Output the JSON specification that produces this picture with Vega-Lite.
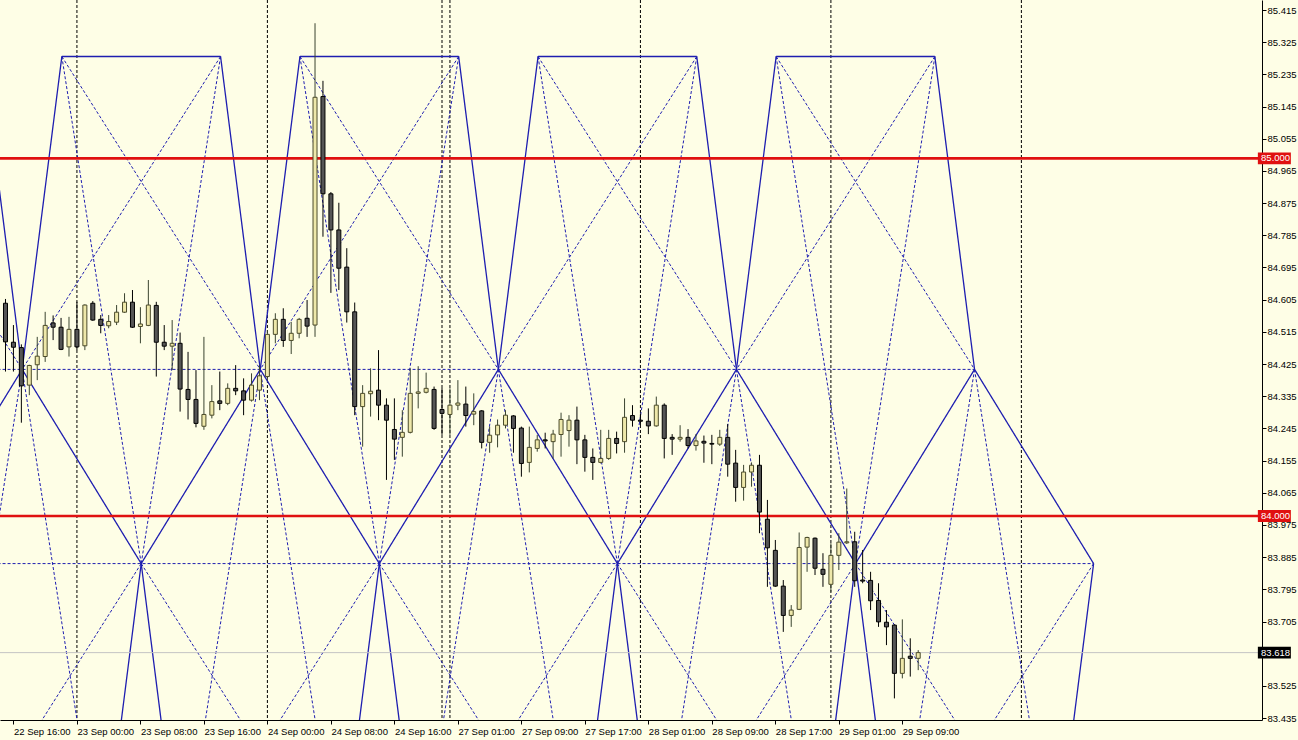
{
  "$schema": "https://vega.github.io/schema/vega-lite/v6.json",
  "width": 1262,
  "height": 720,
  "autosize": {"type": "none"},
  "padding": {"left": 0, "top": 0, "right": 36, "bottom": 20},
  "background": "#FEFEE6",
  "config": {"view": {"stroke": null, "fill": "#FEFEE6"}, "font": "Liberation Sans", "axis": {"labelOverlap": false, "labelSeparation": 0}},
  "datasets": {
    "seps": [{"i": 8}, {"i": 32}, {"i": 54}, {"i": 55}, {"i": 79}, {"i": 103}, {"i": 127}],
    "levels": [
      {"level": 85.0, "label": "85.000", "kind": "line"},
      {"level": 84.0, "label": "84.000", "kind": "line"},
      {"level": 83.618, "label": "83.618", "kind": "bid"}
    ],
    "gann": [
      {"x1": 6.1, "p1": 85.285, "x2": 26.1, "p2": 85.285, "k": "s"},
      {"x1": 36.1, "p1": 85.285, "x2": 56.1, "p2": 85.285, "k": "s"},
      {"x1": 66.1, "p1": 85.285, "x2": 86.1, "p2": 85.285, "k": "s"},
      {"x1": 96.1, "p1": 85.285, "x2": 116.1, "p2": 85.285, "k": "s"},
      {"x1": -3.9, "p1": 85.285, "x2": 1.1, "p2": 84.41, "k": "s"},
      {"x1": 6.1, "p1": 85.285, "x2": 1.1, "p2": 84.41, "k": "s"},
      {"x1": 26.1, "p1": 85.285, "x2": 31.1, "p2": 84.41, "k": "s"},
      {"x1": 36.1, "p1": 85.285, "x2": 31.1, "p2": 84.41, "k": "s"},
      {"x1": 56.1, "p1": 85.285, "x2": 61.1, "p2": 84.41, "k": "s"},
      {"x1": 66.1, "p1": 85.285, "x2": 61.1, "p2": 84.41, "k": "s"},
      {"x1": 86.1, "p1": 85.285, "x2": 91.1, "p2": 84.41, "k": "s"},
      {"x1": 96.1, "p1": 85.285, "x2": 91.1, "p2": 84.41, "k": "s"},
      {"x1": 116.1, "p1": 85.285, "x2": 121.1, "p2": 84.41, "k": "s"},
      {"x1": 1.1, "p1": 84.41, "x2": -13.9, "p2": 83.867, "k": "s"},
      {"x1": 1.1, "p1": 84.41, "x2": 16.1, "p2": 83.867, "k": "s"},
      {"x1": 31.1, "p1": 84.41, "x2": 16.1, "p2": 83.867, "k": "s"},
      {"x1": 31.1, "p1": 84.41, "x2": 46.1, "p2": 83.867, "k": "s"},
      {"x1": 61.1, "p1": 84.41, "x2": 46.1, "p2": 83.867, "k": "s"},
      {"x1": 61.1, "p1": 84.41, "x2": 76.1, "p2": 83.867, "k": "s"},
      {"x1": 91.1, "p1": 84.41, "x2": 76.1, "p2": 83.867, "k": "s"},
      {"x1": 91.1, "p1": 84.41, "x2": 106.1, "p2": 83.867, "k": "s"},
      {"x1": 121.1, "p1": 84.41, "x2": 106.1, "p2": 83.867, "k": "s"},
      {"x1": 121.1, "p1": 84.41, "x2": 136.1, "p2": 83.867, "k": "s"},
      {"x1": 16.1, "p1": 83.867, "x2": 11.1, "p2": 82.992, "k": "s"},
      {"x1": 16.1, "p1": 83.867, "x2": 21.1, "p2": 82.992, "k": "s"},
      {"x1": 46.1, "p1": 83.867, "x2": 41.1, "p2": 82.992, "k": "s"},
      {"x1": 46.1, "p1": 83.867, "x2": 51.1, "p2": 82.992, "k": "s"},
      {"x1": 76.1, "p1": 83.867, "x2": 71.1, "p2": 82.992, "k": "s"},
      {"x1": 76.1, "p1": 83.867, "x2": 81.1, "p2": 82.992, "k": "s"},
      {"x1": 106.1, "p1": 83.867, "x2": 101.1, "p2": 82.992, "k": "s"},
      {"x1": 106.1, "p1": 83.867, "x2": 111.1, "p2": 82.992, "k": "s"},
      {"x1": 136.1, "p1": 83.867, "x2": 131.1, "p2": 82.992, "k": "s"},
      {"x1": -2, "p1": 84.41, "x2": 121.1, "p2": 84.41, "k": "d"},
      {"x1": -2, "p1": 83.867, "x2": 136.1, "p2": 83.867, "k": "d"},
      {"x1": -23.9, "p1": 85.285, "x2": 1.1, "p2": 84.41, "k": "d"},
      {"x1": 6.1, "p1": 85.285, "x2": 31.1, "p2": 84.41, "k": "d"},
      {"x1": 26.1, "p1": 85.285, "x2": 1.1, "p2": 84.41, "k": "d"},
      {"x1": 36.1, "p1": 85.285, "x2": 61.1, "p2": 84.41, "k": "d"},
      {"x1": 56.1, "p1": 85.285, "x2": 31.1, "p2": 84.41, "k": "d"},
      {"x1": 66.1, "p1": 85.285, "x2": 91.1, "p2": 84.41, "k": "d"},
      {"x1": 86.1, "p1": 85.285, "x2": 61.1, "p2": 84.41, "k": "d"},
      {"x1": 96.1, "p1": 85.285, "x2": 121.1, "p2": 84.41, "k": "d"},
      {"x1": 116.1, "p1": 85.285, "x2": 91.1, "p2": 84.41, "k": "d"},
      {"x1": 6.1, "p1": 85.285, "x2": 16.1, "p2": 83.867, "k": "d"},
      {"x1": 26.1, "p1": 85.285, "x2": 16.1, "p2": 83.867, "k": "d"},
      {"x1": 36.1, "p1": 85.285, "x2": 46.1, "p2": 83.867, "k": "d"},
      {"x1": 56.1, "p1": 85.285, "x2": 46.1, "p2": 83.867, "k": "d"},
      {"x1": 66.1, "p1": 85.285, "x2": 76.1, "p2": 83.867, "k": "d"},
      {"x1": 86.1, "p1": 85.285, "x2": 76.1, "p2": 83.867, "k": "d"},
      {"x1": 96.1, "p1": 85.285, "x2": 106.1, "p2": 83.867, "k": "d"},
      {"x1": 116.1, "p1": 85.285, "x2": 106.1, "p2": 83.867, "k": "d"},
      {"x1": 16.1, "p1": 83.867, "x2": -8.9, "p2": 82.992, "k": "d"},
      {"x1": 16.1, "p1": 83.867, "x2": 41.1, "p2": 82.992, "k": "d"},
      {"x1": 46.1, "p1": 83.867, "x2": 21.1, "p2": 82.992, "k": "d"},
      {"x1": 46.1, "p1": 83.867, "x2": 71.1, "p2": 82.992, "k": "d"},
      {"x1": 76.1, "p1": 83.867, "x2": 51.1, "p2": 82.992, "k": "d"},
      {"x1": 76.1, "p1": 83.867, "x2": 101.1, "p2": 82.992, "k": "d"},
      {"x1": 106.1, "p1": 83.867, "x2": 81.1, "p2": 82.992, "k": "d"},
      {"x1": 106.1, "p1": 83.867, "x2": 131.1, "p2": 82.992, "k": "d"},
      {"x1": 136.1, "p1": 83.867, "x2": 111.1, "p2": 82.992, "k": "d"},
      {"x1": 1.1, "p1": 84.41, "x2": -8.9, "p2": 82.992, "k": "d"},
      {"x1": 1.1, "p1": 84.41, "x2": 11.1, "p2": 82.992, "k": "d"},
      {"x1": 31.1, "p1": 84.41, "x2": 21.1, "p2": 82.992, "k": "d"},
      {"x1": 31.1, "p1": 84.41, "x2": 41.1, "p2": 82.992, "k": "d"},
      {"x1": 61.1, "p1": 84.41, "x2": 51.1, "p2": 82.992, "k": "d"},
      {"x1": 61.1, "p1": 84.41, "x2": 71.1, "p2": 82.992, "k": "d"},
      {"x1": 91.1, "p1": 84.41, "x2": 81.1, "p2": 82.992, "k": "d"},
      {"x1": 91.1, "p1": 84.41, "x2": 101.1, "p2": 82.992, "k": "d"},
      {"x1": 121.1, "p1": 84.41, "x2": 111.1, "p2": 82.992, "k": "d"},
      {"x1": 121.1, "p1": 84.41, "x2": 131.1, "p2": 82.992, "k": "d"}
    ],
    "ohlc": [
      {"i": -1, "o": 84.595, "h": 84.607, "l": 84.404, "c": 84.487},
      {"i": 0, "o": 84.486, "h": 84.534, "l": 84.404, "c": 84.472},
      {"i": 1, "o": 84.471, "h": 84.480, "l": 84.261, "c": 84.364},
      {"i": 2, "o": 84.366, "h": 84.423, "l": 84.338, "c": 84.421},
      {"i": 3, "o": 84.423, "h": 84.501, "l": 84.380, "c": 84.447},
      {"i": 4, "o": 84.446, "h": 84.571, "l": 84.431, "c": 84.533},
      {"i": 5, "o": 84.540, "h": 84.561, "l": 84.492, "c": 84.528},
      {"i": 6, "o": 84.528, "h": 84.554, "l": 84.464, "c": 84.466},
      {"i": 7, "o": 84.473, "h": 84.557, "l": 84.446, "c": 84.522},
      {"i": 8, "o": 84.522, "h": 84.599, "l": 84.464, "c": 84.473},
      {"i": 9, "o": 84.476, "h": 84.592, "l": 84.464, "c": 84.590},
      {"i": 10, "o": 84.595, "h": 84.601, "l": 84.546, "c": 84.548},
      {"i": 11, "o": 84.550, "h": 84.562, "l": 84.511, "c": 84.533},
      {"i": 12, "o": 84.532, "h": 84.562, "l": 84.525, "c": 84.544},
      {"i": 13, "o": 84.542, "h": 84.590, "l": 84.534, "c": 84.570},
      {"i": 14, "o": 84.570, "h": 84.623, "l": 84.568, "c": 84.598},
      {"i": 15, "o": 84.598, "h": 84.632, "l": 84.526, "c": 84.528},
      {"i": 16, "o": 84.530, "h": 84.584, "l": 84.483, "c": 84.537},
      {"i": 17, "o": 84.533, "h": 84.660, "l": 84.531, "c": 84.590},
      {"i": 18, "o": 84.589, "h": 84.599, "l": 84.390, "c": 84.486},
      {"i": 19, "o": 84.486, "h": 84.534, "l": 84.464, "c": 84.475},
      {"i": 20, "o": 84.475, "h": 84.548, "l": 84.408, "c": 84.483},
      {"i": 21, "o": 84.483, "h": 84.513, "l": 84.292, "c": 84.355},
      {"i": 22, "o": 84.354, "h": 84.459, "l": 84.270, "c": 84.326},
      {"i": 23, "o": 84.326, "h": 84.408, "l": 84.248, "c": 84.259},
      {"i": 24, "o": 84.251, "h": 84.501, "l": 84.241, "c": 84.284},
      {"i": 25, "o": 84.282, "h": 84.366, "l": 84.273, "c": 84.320},
      {"i": 26, "o": 84.322, "h": 84.404, "l": 84.296, "c": 84.315},
      {"i": 27, "o": 84.315, "h": 84.371, "l": 84.310, "c": 84.357},
      {"i": 28, "o": 84.357, "h": 84.422, "l": 84.338, "c": 84.350},
      {"i": 29, "o": 84.350, "h": 84.385, "l": 84.282, "c": 84.324},
      {"i": 30, "o": 84.324, "h": 84.399, "l": 84.320, "c": 84.366},
      {"i": 31, "o": 84.352, "h": 84.422, "l": 84.324, "c": 84.392},
      {"i": 32, "o": 84.390, "h": 84.520, "l": 84.380, "c": 84.508},
      {"i": 33, "o": 84.508, "h": 84.567, "l": 84.483, "c": 84.550},
      {"i": 34, "o": 84.550, "h": 84.581, "l": 84.473, "c": 84.491},
      {"i": 35, "o": 84.491, "h": 84.543, "l": 84.453, "c": 84.511},
      {"i": 36, "o": 84.511, "h": 84.554, "l": 84.497, "c": 84.550},
      {"i": 37, "o": 84.553, "h": 84.604, "l": 84.501, "c": 84.531},
      {"i": 38, "o": 84.534, "h": 85.378, "l": 84.501, "c": 85.171},
      {"i": 39, "o": 85.173, "h": 85.217, "l": 84.781, "c": 84.901},
      {"i": 40, "o": 84.901, "h": 84.906, "l": 84.624, "c": 84.800},
      {"i": 41, "o": 84.800, "h": 84.876, "l": 84.632, "c": 84.693},
      {"i": 42, "o": 84.696, "h": 84.749, "l": 84.541, "c": 84.571},
      {"i": 43, "o": 84.571, "h": 84.597, "l": 84.282, "c": 84.306},
      {"i": 44, "o": 84.306, "h": 84.366, "l": 84.194, "c": 84.343},
      {"i": 45, "o": 84.342, "h": 84.413, "l": 84.278, "c": 84.349},
      {"i": 46, "o": 84.352, "h": 84.464, "l": 84.268, "c": 84.310},
      {"i": 47, "o": 84.310, "h": 84.329, "l": 84.101, "c": 84.268},
      {"i": 48, "o": 84.242, "h": 84.329, "l": 84.157, "c": 84.215},
      {"i": 49, "o": 84.220, "h": 84.296, "l": 84.166, "c": 84.234},
      {"i": 50, "o": 84.234, "h": 84.413, "l": 84.231, "c": 84.343},
      {"i": 51, "o": 84.343, "h": 84.419, "l": 84.301, "c": 84.347},
      {"i": 52, "o": 84.346, "h": 84.401, "l": 84.343, "c": 84.357},
      {"i": 53, "o": 84.354, "h": 84.362, "l": 84.241, "c": 84.245},
      {"i": 54, "o": 84.298, "h": 84.358, "l": 84.227, "c": 84.287},
      {"i": 55, "o": 84.284, "h": 84.357, "l": 84.227, "c": 84.310},
      {"i": 56, "o": 84.310, "h": 84.380, "l": 84.296, "c": 84.316},
      {"i": 57, "o": 84.313, "h": 84.362, "l": 84.250, "c": 84.281},
      {"i": 58, "o": 84.285, "h": 84.343, "l": 84.254, "c": 84.292},
      {"i": 59, "o": 84.294, "h": 84.296, "l": 84.189, "c": 84.206},
      {"i": 60, "o": 84.206, "h": 84.250, "l": 84.177, "c": 84.226},
      {"i": 61, "o": 84.227, "h": 84.270, "l": 84.192, "c": 84.254},
      {"i": 62, "o": 84.254, "h": 84.296, "l": 84.245, "c": 84.282},
      {"i": 63, "o": 84.280, "h": 84.282, "l": 84.177, "c": 84.245},
      {"i": 64, "o": 84.246, "h": 84.250, "l": 84.110, "c": 84.147},
      {"i": 65, "o": 84.150, "h": 84.250, "l": 84.122, "c": 84.192},
      {"i": 66, "o": 84.189, "h": 84.227, "l": 84.180, "c": 84.213},
      {"i": 67, "o": 84.213, "h": 84.233, "l": 84.189, "c": 84.210},
      {"i": 68, "o": 84.208, "h": 84.241, "l": 84.161, "c": 84.229},
      {"i": 69, "o": 84.228, "h": 84.289, "l": 84.166, "c": 84.270},
      {"i": 70, "o": 84.239, "h": 84.282, "l": 84.194, "c": 84.268},
      {"i": 71, "o": 84.268, "h": 84.306, "l": 84.145, "c": 84.213},
      {"i": 72, "o": 84.213, "h": 84.227, "l": 84.124, "c": 84.164},
      {"i": 73, "o": 84.164, "h": 84.189, "l": 84.101, "c": 84.150},
      {"i": 74, "o": 84.150, "h": 84.241, "l": 84.147, "c": 84.161},
      {"i": 75, "o": 84.161, "h": 84.241, "l": 84.157, "c": 84.217},
      {"i": 76, "o": 84.217, "h": 84.236, "l": 84.175, "c": 84.203},
      {"i": 77, "o": 84.208, "h": 84.329, "l": 84.177, "c": 84.276},
      {"i": 78, "o": 84.281, "h": 84.310, "l": 84.250, "c": 84.268},
      {"i": 79, "o": 84.268, "h": 84.287, "l": 84.254, "c": 84.265},
      {"i": 80, "o": 84.265, "h": 84.301, "l": 84.229, "c": 84.252},
      {"i": 81, "o": 84.252, "h": 84.334, "l": 84.250, "c": 84.310},
      {"i": 82, "o": 84.310, "h": 84.315, "l": 84.161, "c": 84.217},
      {"i": 83, "o": 84.220, "h": 84.229, "l": 84.171, "c": 84.215},
      {"i": 84, "o": 84.215, "h": 84.254, "l": 84.208, "c": 84.220},
      {"i": 85, "o": 84.220, "h": 84.243, "l": 84.189, "c": 84.197},
      {"i": 86, "o": 84.197, "h": 84.229, "l": 84.183, "c": 84.210},
      {"i": 87, "o": 84.209, "h": 84.225, "l": 84.149, "c": 84.204},
      {"i": 88, "o": 84.203, "h": 84.227, "l": 84.145, "c": 84.201},
      {"i": 89, "o": 84.201, "h": 84.241, "l": 84.196, "c": 84.220},
      {"i": 90, "o": 84.220, "h": 84.257, "l": 84.110, "c": 84.145},
      {"i": 91, "o": 84.148, "h": 84.185, "l": 84.040, "c": 84.080},
      {"i": 92, "o": 84.080, "h": 84.143, "l": 84.043, "c": 84.123},
      {"i": 93, "o": 84.123, "h": 84.150, "l": 84.082, "c": 84.142},
      {"i": 94, "o": 84.142, "h": 84.171, "l": 83.952, "c": 84.011},
      {"i": 95, "o": 83.991, "h": 84.045, "l": 83.802, "c": 83.911},
      {"i": 96, "o": 83.904, "h": 83.933, "l": 83.802, "c": 83.804},
      {"i": 97, "o": 83.804, "h": 83.821, "l": 83.676, "c": 83.722},
      {"i": 98, "o": 83.722, "h": 83.751, "l": 83.690, "c": 83.737},
      {"i": 99, "o": 83.739, "h": 83.954, "l": 83.737, "c": 83.912},
      {"i": 100, "o": 83.913, "h": 83.942, "l": 83.844, "c": 83.940},
      {"i": 101, "o": 83.938, "h": 83.940, "l": 83.835, "c": 83.854},
      {"i": 102, "o": 83.851, "h": 83.896, "l": 83.802, "c": 83.837},
      {"i": 103, "o": 83.809, "h": 83.924, "l": 83.788, "c": 83.890},
      {"i": 104, "o": 83.890, "h": 83.952, "l": 83.849, "c": 83.927},
      {"i": 105, "o": 83.925, "h": 84.077, "l": 83.922, "c": 83.928},
      {"i": 106, "o": 83.928, "h": 83.956, "l": 83.802, "c": 83.819},
      {"i": 107, "o": 83.821, "h": 83.905, "l": 83.812, "c": 83.818},
      {"i": 108, "o": 83.820, "h": 83.844, "l": 83.737, "c": 83.763},
      {"i": 109, "o": 83.764, "h": 83.812, "l": 83.690, "c": 83.704},
      {"i": 110, "o": 83.703, "h": 83.737, "l": 83.639, "c": 83.690},
      {"i": 111, "o": 83.695, "h": 83.697, "l": 83.490, "c": 83.560},
      {"i": 112, "o": 83.560, "h": 83.711, "l": 83.546, "c": 83.602},
      {"i": 113, "o": 83.608, "h": 83.658, "l": 83.551, "c": 83.602},
      {"i": 114, "o": 83.602, "h": 83.625, "l": 83.569, "c": 83.618}
    ]
  },
  "layer": [
    {
      "data": {"name": "seps"},
      "mark": {"type": "rule", "color": "#000000", "strokeDash": [3, 2], "strokeWidth": 1},
      "encoding": {
        "x": {
          "field": "i", "type": "quantitative", "title": null,
          "scale": {"domain": [-1.0625, 156.6875], "nice": false, "zero": false},
          "axis": {
            "orient": "bottom", "title": null, "grid": false, "tickCount": 40,
            "values": [0, 8, 16, 24, 32, 40, 48, 56, 64, 72, 80, 88, 96, 104, 112],
            "labelExpr": "['22 Sep 16:00','23 Sep 00:00','23 Sep 08:00','23 Sep 16:00','24 Sep 00:00','24 Sep 08:00','24 Sep 16:00','27 Sep 01:00','27 Sep 09:00','27 Sep 17:00','28 Sep 01:00','28 Sep 09:00','28 Sep 17:00','29 Sep 01:00','29 Sep 09:00'][round(datum.value/8)]",
            "domainColor": "#000000", "tickColor": "#000000", "tickSize": 4,
            "labelPadding": 2, "labelAlign": "left", "labelBaseline": "top",
            "labelFontSize": 9.5, "labelColor": "#000000",
            "labelFlush": false, "labelOverlap": false, "labelBound": false
          }
        }
      }
    },
    {
      "data": {"name": "gann"},
      "mark": {"type": "rule", "clip": true, "color": "#1E1EB0"},
      "encoding": {
        "x": {"field": "x1", "type": "quantitative", "title": null, "scale": {"domain": [-1.0625, 156.6875], "nice": false, "zero": false}},
        "x2": {"field": "x2"},
        "y": {
          "field": "p1", "type": "quantitative", "title": null,
          "scale": {"domain": [83.4296, 85.443], "nice": false, "zero": false},
          "axis": {
            "orient": "right", "title": null, "grid": false, "tickCount": 60,
            "values": [85.415, 85.325, 85.235, 85.145, 85.055, 84.965, 84.875, 84.785, 84.695, 84.605, 84.515, 84.425, 84.335, 84.245, 84.155, 84.065, 83.975, 83.885, 83.795, 83.705, 83.525, 83.435],
            "format": ".3f",
            "domainColor": "#000000", "tickColor": "#000000", "tickSize": 4,
            "labelPadding": 1, "labelFontSize": 9.5, "labelColor": "#000000",
            "labelFlush": false, "labelOverlap": false, "labelBound": false, "labelSeparation": 0
          }
        },
        "y2": {"field": "p2"},
        "strokeDash": {"field": "k", "type": "nominal", "legend": null, "scale": {"domain": ["s", "d"], "range": [[1, 0], [3, 2]]}},
        "strokeWidth": {"field": "k", "type": "nominal", "legend": null, "scale": {"domain": ["s", "d"], "range": [1.3, 1]}}
      }
    },
    {
      "data": {"name": "levels"},
      "mark": {"type": "rule"},
      "encoding": {
        "y": {"field": "level", "type": "quantitative", "title": null, "scale": {"domain": [83.4296, 85.443], "nice": false, "zero": false}},
        "color": {"condition": {"test": "datum.kind == 'bid'", "value": "#C4C4C4"}, "value": "#E01010"},
        "strokeWidth": {"condition": {"test": "datum.kind == 'bid'", "value": 1}, "value": 2.6}
      }
    },
    {
      "data": {"name": "ohlc"},
      "mark": {"type": "rule", "clip": true, "strokeWidth": 1},
      "encoding": {
        "x": {"field": "i", "type": "quantitative", "title": null, "scale": {"domain": [-1.0625, 156.6875], "nice": false, "zero": false}},
        "y": {"field": "l", "type": "quantitative", "title": null, "scale": {"domain": [83.4296, 85.443], "nice": false, "zero": false}},
        "y2": {"field": "h"},
        "color": {"condition": {"test": "datum.c >= datum.o", "value": "#3A4430"}, "value": "#000000"}
      }
    },
    {
      "data": {"name": "ohlc"},
      "mark": {"type": "bar", "clip": true, "size": 4, "strokeWidth": 1},
      "encoding": {
        "x": {"field": "i", "type": "quantitative", "title": null, "scale": {"domain": [-1.0625, 156.6875], "nice": false, "zero": false}},
        "y": {"field": "o", "type": "quantitative", "title": null, "scale": {"domain": [83.4296, 85.443], "nice": false, "zero": false}},
        "y2": {"field": "c"},
        "fill": {"condition": {"test": "datum.c >= datum.o", "value": "#EEE8AA"}, "value": "#555555"},
        "stroke": {"condition": {"test": "datum.c >= datum.o", "value": "#4B4B2B"}, "value": "#000000"}
      }
    },
    {
      "data": {"name": "levels"},
      "mark": {"type": "point", "shape": "M-1,-0.36H1V0.36H-1Z", "filled": true, "size": 1089, "opacity": 1, "strokeWidth": 0},
      "encoding": {
        "x": {"datum": 158.875},
        "y": {"field": "level", "type": "quantitative", "title": null, "scale": {"domain": [83.4296, 85.443], "nice": false, "zero": false}},
        "fill": {"condition": {"test": "datum.kind == 'bid'", "value": "#000000"}, "value": "#E01010"}
      }
    },
    {
      "data": {"name": "levels"},
      "mark": {"type": "text", "align": "left", "baseline": "middle", "fontSize": 9.5, "color": "#FFFFFF"},
      "encoding": {
        "x": {"datum": 157.2},
        "y": {"field": "level", "type": "quantitative", "title": null, "scale": {"domain": [83.4296, 85.443], "nice": false, "zero": false}},
        "text": {"field": "label", "type": "nominal"}
      }
    }
  ]
}
